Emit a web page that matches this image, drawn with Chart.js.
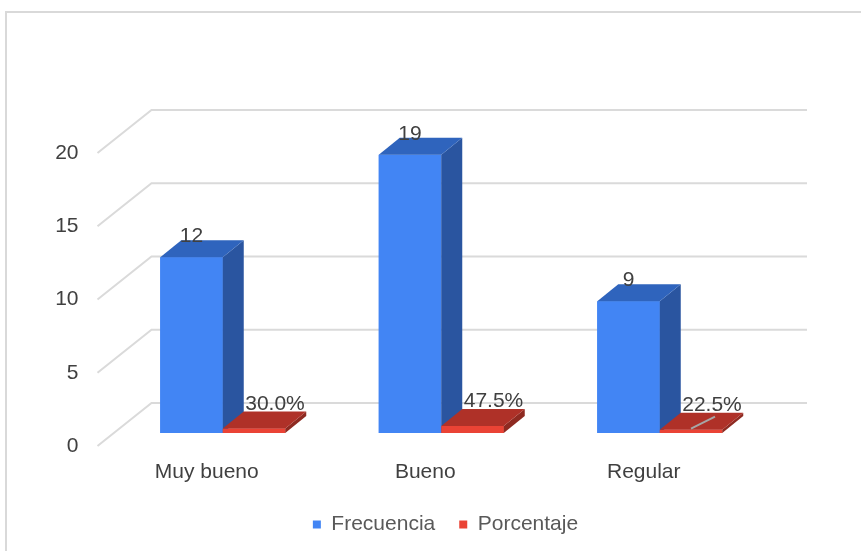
<!DOCTYPE html>
<html>
<head>
<meta charset="utf-8">
<title>Frecuencia y porcentaje</title>
<script src="https://cdn.jsdelivr.net/npm/chart.js@4.4.1/dist/chart.umd.min.js"></script>
<style>
    html, body { margin: 0; padding: 0; background: #fff; }
    #wrap { width: 861px; height: 551px; position: relative; }
</style>
</head>
<body>
<div id="wrap"><canvas id="myChart"></canvas></div>
<script>
// datos
var categorias = ['Muy bueno', 'Bueno', 'Regular'];
var frecuencia = [12, 19, 9];
var porcentaje = [0.300, 0.475, 0.225];
var yTicks = [0, 5, 10, 15, 20];

var colores = {
    azul:  { frente: '#4285f4', lado: '#2a55a0', arriba: '#2f64bd' },
    rojo:  { frente: '#ea4335', lado: '#8e2a21', arriba: '#af3128' }
};

// profundidad del piso y de las barras (efecto 3D)
var piso = { frenteX: -16, frenteY: 13, fondoX: 38, fondoY: -30 };
var prof = { x: 21, y: -17 };
var gris = '#dadada';
var textoColor = '#404040';
var fuente = '"Liberation Sans", Arial, sans-serif';

// cuadricula 3D: pared del fondo + diagonales del eje
var grid3d = {
    id: 'grid3d',
    beforeDatasetsDraw: function (chart) {
        var ctx = chart.ctx;
        var area = chart.chartArea;
        var y = chart.scales.y;
        ctx.save();
        ctx.strokeStyle = gris;
        ctx.lineWidth = 2;
        yTicks.forEach(function (v) {
            var py = y.getPixelForValue(v);
            ctx.beginPath();
            ctx.moveTo(area.left + piso.frenteX, py + piso.frenteY);
            ctx.lineTo(area.left + piso.fondoX, py + piso.fondoY);
            ctx.lineTo(area.right + piso.fondoX, py + piso.fondoY);
            ctx.stroke();
        });
        ctx.restore();
    }
};

function cara(ctx, pts, color) {
    ctx.fillStyle = color;
    ctx.beginPath();
    ctx.moveTo(pts[0][0], pts[0][1]);
    for (var i = 1; i < pts.length; i++) ctx.lineTo(pts[i][0], pts[i][1]);
    ctx.closePath();
    ctx.fill();
}

// caras laterales y superiores de cada barra, mas las etiquetas
var barras3d = {
    id: 'barras3d',
    afterDatasetsDraw: function (chart) {
        var ctx = chart.ctx;
        var paleta = [colores.azul, colores.rojo];
        ctx.save();
        for (var i = 0; i < categorias.length; i++) {
            for (var d = 0; d < chart.data.datasets.length; d++) {
                var bar = chart.getDatasetMeta(d).data[i];
                var c = paleta[d];
                var l = bar.x - bar.width / 2, r = bar.x + bar.width / 2;
                var t = bar.y, b = bar.base;
                cara(ctx, [[l, t], [r, t], [r, b], [l, b]], c.frente);
                cara(ctx, [[r, t], [r + prof.x, t + prof.y], [r + prof.x, b + prof.y], [r, b]], c.lado);
                cara(ctx, [[l, t], [l + prof.x, t + prof.y], [r + prof.x, t + prof.y], [r, t]], c.arriba);
            }
        }
        // linea guia de la ultima etiqueta
        var b3 = chart.getDatasetMeta(1).data[2];
        ctx.strokeStyle = '#a6a6a6';
        ctx.lineWidth = 2;
        ctx.beginPath();
        ctx.moveTo(b3.x, b3.y - 1);
        ctx.lineTo(b3.x + 24, b3.y - 13);
        ctx.stroke();
        // etiquetas de datos
        ctx.fillStyle = textoColor;
        ctx.font = '21px ' + fuente;
        ctx.textAlign = 'center';
        ctx.textBaseline = 'alphabetic';
        for (var j = 0; j < categorias.length; j++) {
            var b1 = chart.getDatasetMeta(0).data[j];
            ctx.fillText(String(frecuencia[j]), b1.x, b1.y + prof.y + 2);
            var b2 = chart.getDatasetMeta(1).data[j];
            ctx.fillText((porcentaje[j] * 100).toFixed(1) + '%', b2.x + prof.x, b2.y + prof.y - 2);
        }
        ctx.restore();
    }
};

// marco exterior
var marco = {
    id: 'marco',
    beforeDraw: function (chart) {
        var ctx = chart.ctx;
        ctx.save();
        ctx.strokeStyle = '#d9d9d9';
        ctx.lineWidth = 2;
        ctx.beginPath();
        ctx.moveTo(6, chart.height);
        ctx.lineTo(6, 12);
        ctx.lineTo(chart.width, 12);
        ctx.stroke();
        ctx.restore();
    }
};

const ctx = document.getElementById('myChart').getContext('2d');
const chart = new Chart(ctx, {
    type: 'bar',
    data: {
        labels: categorias,
        datasets: [{
            label: 'Frecuencia',
            data: frecuencia,
            backgroundColor: colores.azul.frente,
            borderWidth: 0
        }, {
            label: 'Porcentaje',
            data: porcentaje,
            backgroundColor: colores.rojo.frente,
            borderWidth: 0
        }]
    },
    options: {
        responsive: true,
        maintainAspectRatio: false,
        animation: false,
        categoryPercentage: 0.572,
        barPercentage: 1,
        layout: {
            padding: { top: 140, right: 0, left: 30, bottom: 6 }
        },
        scales: {
            x: {
                grid: { display: false, drawTicks: false },
                border: { display: false },
                ticks: {
                    color: textoColor,
                    font: { family: fuente, size: 21 },
                    padding: 27,
                    labelOffset: piso.frenteX,
                    maxRotation: 0
                },
                afterFit: function (scale) { scale.height = 57; }
            },
            y: {
                min: 0,
                max: 20,
                grid: { display: false, drawTicks: false },
                border: { display: false },
                ticks: {
                    stepSize: 5,
                    color: textoColor,
                    font: { family: fuente, size: 21 },
                    padding: 35,
                    labelOffset: piso.frenteY
                },
                afterFit: function (scale) { scale.width = 83.5; }
            },
            // eje vacio que reserva el margen derecho
            yDer: {
                position: 'right',
                grid: { display: false, drawTicks: false },
                border: { display: false },
                ticks: { display: false },
                afterFit: function (scale) { scale.width = 92; }
            }
        },
        plugins: {
            legend: {
                position: 'bottom',
                labels: {
                    boxWidth: 8,
                    boxHeight: 8,
                    padding: 24,
                    color: '#595959',
                    font: { family: fuente, size: 21 }
                }
            },
            tooltip: { enabled: false }
        }
    },
    plugins: [marco, grid3d, barras3d]
});
</script>
</body>
</html>
